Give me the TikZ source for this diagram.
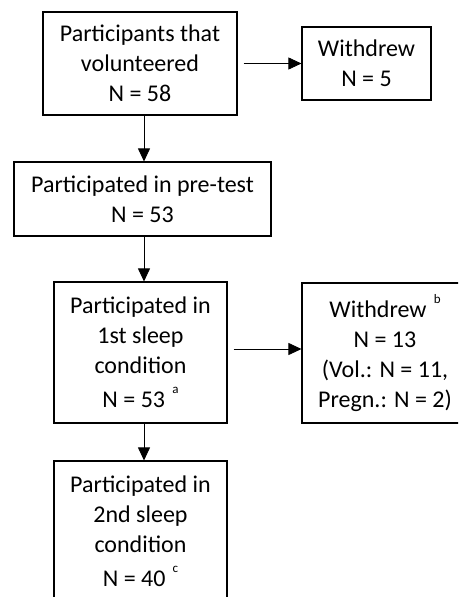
\documentclass[tikz,border=0pt]{standalone}
\usepackage{fontspec}
\setmainfont{Carlito}
\usetikzlibrary{arrows.meta}
\begin{document}
\begin{tikzpicture}[x=1pt,y=-1pt,
  box/.style={draw=black,line width=1.1pt,rectangle,inner sep=0pt,align=center,
    font=\fontsize{24}{30}\selectfont},
  conn/.style={line width=0.8pt,-{Triangle[length=13pt,width=12pt]}}]
\useasboundingbox (0,0) rectangle (458,597);
\clip (0,0) rectangle (458,597);
\newcommand{\supmark}[1]{\hspace{0.3em}\raisebox{14pt}{\fontsize{13}{13}\selectfont #1}}
\node[box,minimum width=194pt,minimum height=103pt] (vol) at (140,63.5)
  {Participants that\\volunteered\\N = 58};
\node[box,minimum width=129pt,minimum height=73pt] (w1) at (366.5,63.5)
  {Withdrew\\N = 5};
\node[box,minimum width=257pt,minimum height=74pt] (pre) at (142.5,199)
  {Participated in pre-test\\N = 53};
\node[box,minimum width=173pt,minimum height=141pt] (s1) at (140.5,352.5)
  {Participated in\\1st sleep\\condition\\[4pt]N = 53\supmark{a}};
\node[box,minimum width=166pt,minimum height=140pt] (w2) at (385,353)
  {Withdrew\supmark{b}\\N = 13\\(Vol.: N = 11,\\Pregn.: N = 2)};
\node[box,minimum width=173pt,minimum height=141pt] (s2) at (140.5,531.5)
  {Participated in\\2nd sleep\\condition\\[4pt]N = 40\supmark{c}};
\draw[conn,shorten <=6pt] (vol.east) -- (w1.west);
\draw[conn] (144,116) coordinate (p1) -- (p1 |- pre.north);
\draw[conn] (144,236) coordinate (p2) -- (p2 |- s1.north);
\draw[conn,shorten <=6pt] ([yshift=3.5pt]s1.east) -- ([yshift=3.5pt]s1.east -| w2.west);
\draw[conn] (144,423) coordinate (p3) -- (p3 |- s2.north);
\end{tikzpicture}
\end{document}
